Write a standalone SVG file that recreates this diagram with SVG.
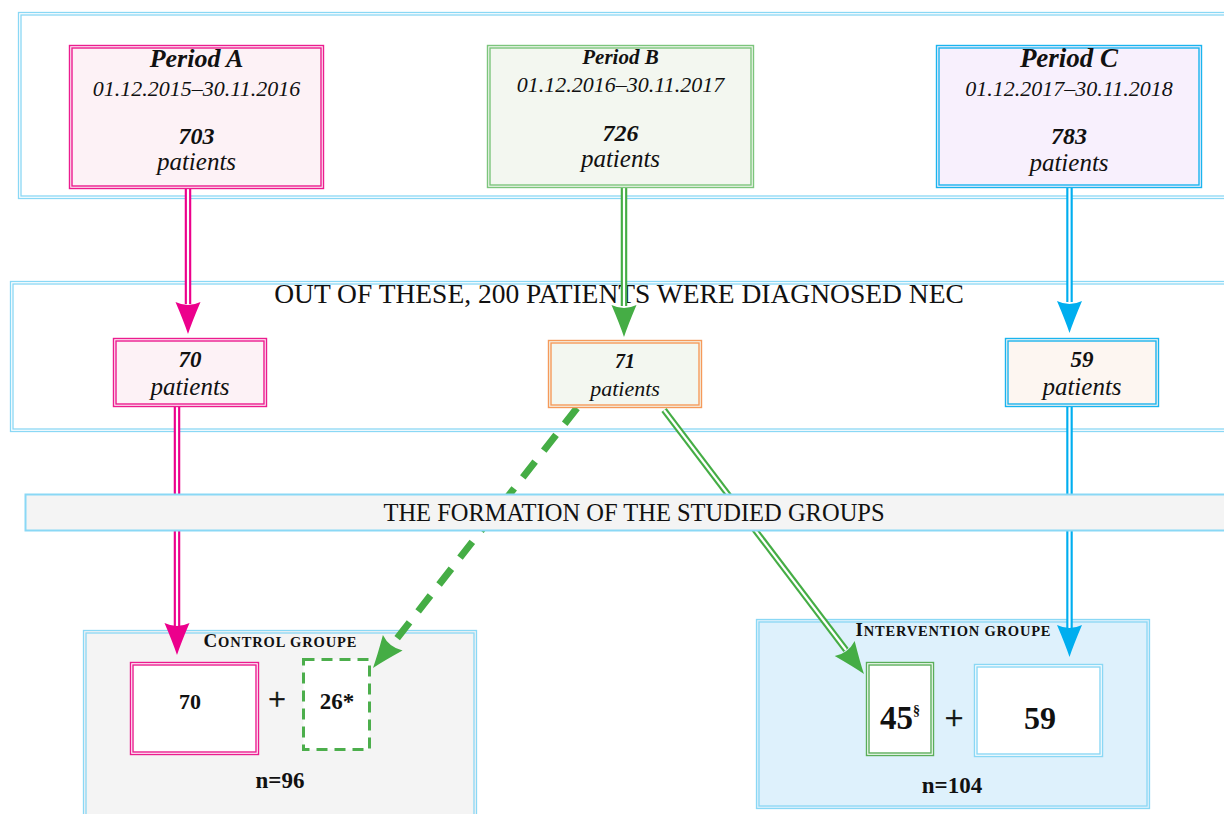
<svg xmlns="http://www.w3.org/2000/svg" width="1224" height="814" viewBox="0 0 1224 814">
<defs>
<style>
.t{font-family:"Liberation Serif","Times New Roman",serif;fill:#111;text-anchor:middle}
.bi{font-weight:bold;font-style:italic}
.it{font-style:italic}
.b{font-weight:bold}
.pan{fill:none;stroke:#8ad8f5;stroke-width:1.3}
.nb{stroke-width:1.4}
.pk{stroke:#ec1c8f}
.gr{stroke:#7cc57c}
.cy{stroke:#1ab4ee}
.or{stroke:#f59a5a}
.lb{stroke:#8ad8f5}
.dg{stroke:#5aae5a}
.dbl{fill:none;stroke-width:6.5}
.dblw{fill:none;stroke:#fff;stroke-width:2.2}
.plus{stroke:#111;stroke-width:0.6}
</style>
<path id="ah" d="M0,0 Q-12,-4 -32,-12.5 Q-26,0 -32,12.5 Q-12,4 0,0Z"/>
</defs>

<g id="panels">
<rect x="18.5" y="12.5" width="1230" height="186" class="pan"/>
<rect x="21" y="15" width="1230" height="181" class="pan"/>
<rect x="10.5" y="281.5" width="1240" height="150" class="pan"/>
<rect x="13" y="284" width="1240" height="145" class="pan"/>
<text class="t" x="619" y="303" font-size="27.5">OUT OF THESE, 200 PATIENTS WERE DIAGNOSED NEC</text>
</g>

<g id="control-group">
<rect x="83.5" y="630.5" width="393" height="200" fill="#f4f4f4" class="lb" stroke-width="1.3"/>
<rect x="86" y="633" width="388" height="200" class="pan"/>
<text class="t b" x="280" y="647" textLength="153" lengthAdjust="spacing"><tspan font-size="19">C</tspan><tspan font-size="14.5">ONTROL GROUPE</tspan></text>
<text class="t b" x="280" y="788" font-size="23">n=96</text>
</g>

<g id="intervention-group">
<rect x="756.5" y="619.5" width="393" height="189" fill="#def1fc" class="lb" stroke-width="1.3"/>
<rect x="759" y="622" width="388" height="184" class="pan"/>
<text class="t b" x="953" y="636" textLength="195" lengthAdjust="spacing"><tspan font-size="19">I</tspan><tspan font-size="14.5">NTERVENTION GROUPE</tspan></text>
<text class="t b" x="952" y="793" font-size="23">n=104</text>
</g>

<g id="connectors">
<path class="dbl" stroke="#ec008c" d="M188,189V304"/>
<path class="dblw" d="M188,189V304"/>
<path class="dbl" stroke="#ec008c" d="M177,407V626"/>
<path class="dblw" d="M177,407V626"/>
<path class="dbl" stroke="#45ad45" d="M624,188V306"/>
<path class="dblw" d="M624,188V306"/>
<path class="dbl" stroke="#00aeef" d="M1069.5,188V302"/>
<path class="dblw" d="M1069.5,188V302"/>
<path class="dbl" stroke="#00aeef" d="M1069.5,407V628"/>
<path class="dblw" d="M1069.5,407V628"/>
<path class="dbl" stroke="#45ad45" d="M664,410L846,650"/>
<path class="dblw" d="M664,410L846,650"/>
<path fill="none" stroke="#45ad45" stroke-width="7" stroke-dasharray="20 14" d="M577,408L391,646"/>
<use href="#ah" fill="#ec008c" transform="translate(188,334) rotate(90)"/>
<use href="#ah" fill="#ec008c" transform="translate(177,655) rotate(90)"/>
<use href="#ah" fill="#45ad45" transform="translate(624,337) rotate(90)"/>
<use href="#ah" fill="#00aeef" transform="translate(1069.5,333) rotate(90)"/>
<use href="#ah" fill="#00aeef" transform="translate(1069.5,657) rotate(90)"/>
<use href="#ah" fill="#45ad45" transform="translate(864,674) rotate(52.9)"/>
<use href="#ah" fill="#45ad45" transform="translate(373,668) rotate(128.1)"/>
</g>

<g id="formation-bar">
<rect x="25.5" y="494.5" width="1230" height="36" fill="#f4f4f4" stroke="#8ad8f5" stroke-width="2"/>
<text class="t" x="634" y="521" font-size="24.5">THE FORMATION OF THE STUDIED GROUPS</text>
</g>

<g id="period-a">
<rect x="69.5" y="45.5" width="254" height="143" fill="#fdf2f6" class="nb pk"/>
<rect x="72" y="48" width="249" height="138" fill="none" class="nb pk"/>
<text class="t bi" x="196.5" y="67" font-size="26">Period A</text>
<text class="t it" x="196.5" y="96" font-size="22">01.12.2015–30.11.2016</text>
<text class="t bi" x="196.5" y="144" font-size="24">703</text>
<text class="t it" x="196.5" y="170" font-size="25">patients</text>
</g>

<g id="period-b">
<rect x="487.5" y="45.5" width="266" height="142" fill="#f3f7f0" class="nb gr"/>
<rect x="490" y="48" width="261" height="137" fill="none" class="nb gr"/>
<text class="t bi" x="620.5" y="64" font-size="21">Period B</text>
<text class="t it" x="620.5" y="92" font-size="22">01.12.2016–30.11.2017</text>
<text class="t bi" x="620.5" y="141" font-size="24">726</text>
<text class="t it" x="620.5" y="167" font-size="25">patients</text>
</g>

<g id="period-c">
<rect x="936.5" y="45.5" width="265" height="142" fill="#f8f0fd" class="nb cy"/>
<rect x="939" y="48" width="260" height="137" fill="none" class="nb cy"/>
<text class="t bi" x="1069" y="67" font-size="27">Period C</text>
<text class="t it" x="1069" y="96" font-size="22">01.12.2017–30.11.2018</text>
<text class="t bi" x="1069" y="144" font-size="24">783</text>
<text class="t it" x="1069" y="171" font-size="25">patients</text>
</g>

<g id="nec-a">
<rect x="113.5" y="338.5" width="153" height="68" fill="#fdf2f6" class="nb pk"/>
<rect x="116" y="341" width="148" height="63" fill="none" class="nb pk"/>
<text class="t bi" x="190" y="367" font-size="23">70</text>
<text class="t it" x="190" y="395" font-size="25">patients</text>
</g>

<g id="nec-b">
<rect x="548.5" y="340.5" width="153" height="67" fill="#f3f7f0" class="nb or"/>
<rect x="551" y="343" width="148" height="62" fill="none" class="nb or"/>
<text class="t bi" x="625" y="368" font-size="20">71</text>
<text class="t it" x="625" y="396" font-size="22">patients</text>
</g>

<g id="nec-c">
<rect x="1005.5" y="338.5" width="153" height="68" fill="#fdf6f1" class="nb cy"/>
<rect x="1008" y="341" width="148" height="63" fill="none" class="nb cy"/>
<text class="t bi" x="1082" y="367" font-size="23">59</text>
<text class="t it" x="1082" y="395" font-size="25">patients</text>
</g>

<g id="control-70">
<rect x="130.5" y="662.5" width="128" height="92" fill="#fff" class="nb pk"/>
<rect x="133" y="665" width="123" height="87" fill="none" class="nb pk"/>
<text class="t b" x="190" y="709" font-size="22">70</text>
</g>
<text class="t plus" x="277" y="710" font-size="31">+</text>
<g id="control-26">
<rect x="303.5" y="659.5" width="66" height="90" fill="#fff" stroke="#4cae4c" stroke-width="3" stroke-dasharray="11 7"/>
<text class="t b" x="337" y="709" font-size="23">26*</text>
</g>

<g id="intervention-45">
<rect x="866.5" y="662.5" width="67" height="93" fill="#fff" class="nb dg"/>
<rect x="869" y="665" width="62" height="88" fill="none" class="nb dg"/>
<text class="t b" x="900" y="729" font-size="33">45<tspan font-size="14" dy="-14">§</tspan></text>
</g>
<text class="t plus" x="954" y="729" font-size="33">+</text>
<g id="intervention-59">
<rect x="974.5" y="664.5" width="128" height="92" fill="#fff" class="nb lb"/>
<rect x="977" y="667" width="123" height="87" fill="none" class="nb lb"/>
<text class="t b" x="1040" y="729" font-size="32">59</text>
</g>
</svg>
